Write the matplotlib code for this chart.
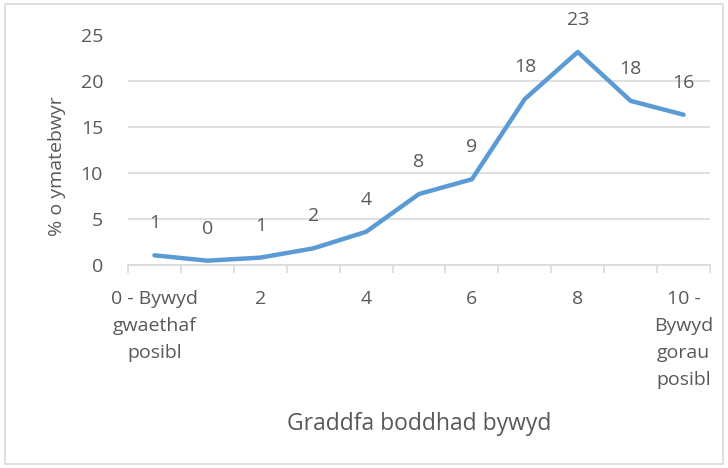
import matplotlib
matplotlib.use("Agg")
import matplotlib.pyplot as plt
import numpy as np
from matplotlib.patches import Rectangle

plt.rcParams['font.family'] = ['Open Sans', 'DejaVu Sans']

# data
scores = list(range(11))
pct = [1.05, 0.47, 0.8, 1.8, 3.6, 7.7, 9.3, 18.0, 23.1, 17.8, 16.3]
tick_pos = [0, 2, 4, 6, 8, 10]
tick_labels = ['0 - Bywyd\ngwaethaf\nposibl', '2', '4', '6', '8',
               '10 -\nBywyd\ngorau\nposibl']

text_col = '#595959'
grid_col = '#d9d9d9'

fig = plt.figure(figsize=(7.28, 4.68), dpi=100)
ax = fig.add_axes([128/728, 1-265/468, (710-128)/728, (265-34.5)/468])

ax.plot(scores, pct, color='#5b9bd5', lw=3.2, solid_joinstyle='round',
        solid_capstyle='round', zorder=3)
for x, y in zip(scores, pct):
    ax.annotate(f'{round(y):d}', (x, y), xytext=(0, 23), textcoords='offset points',
                ha='center', va='center', fontsize=14, color=text_col,
                annotation_clip=False)

ax.set_xlim(-0.5, 10.5)
ax.set_ylim(0, 25)
ax.set_yticks(np.arange(0, 26, 5))
ax.yaxis.grid(True, color=grid_col, lw=1.2)
ax.set_axisbelow(True)
for s in ['top', 'right', 'left']:
    ax.spines[s].set_visible(False)
ax.spines['bottom'].set_color(grid_col)
ax.spines['bottom'].set_linewidth(1.2)

ax.set_xticks(tick_pos)
ax.set_xticklabels(tick_labels, linespacing=1.65, va='top')
ax.set_xticks(np.arange(-0.5, 11, 1), minor=True)
ax.tick_params(axis='x', which='major', length=0, pad=18, labelsize=14,
               labelcolor=text_col)
ax.tick_params(axis='x', which='minor', length=6, color=grid_col, width=1.2)
ax.tick_params(axis='y', length=0, pad=18, labelsize=14, labelcolor=text_col)

ax.set_xlabel('Graddfa boddhad bywyd', fontsize=16.5, color=text_col, labelpad=16)
ax.set_ylabel('% o ymatebwyr', fontsize=14, color=text_col)
ax.yaxis.set_label_coords(-0.107, 0.43)

fig.patches.append(Rectangle((5/728, 4/468), 718/728, 460/468, transform=fig.transFigure,
                             fill=False, edgecolor=grid_col, lw=1.2))

fig.savefig('out.png', dpi=100)
